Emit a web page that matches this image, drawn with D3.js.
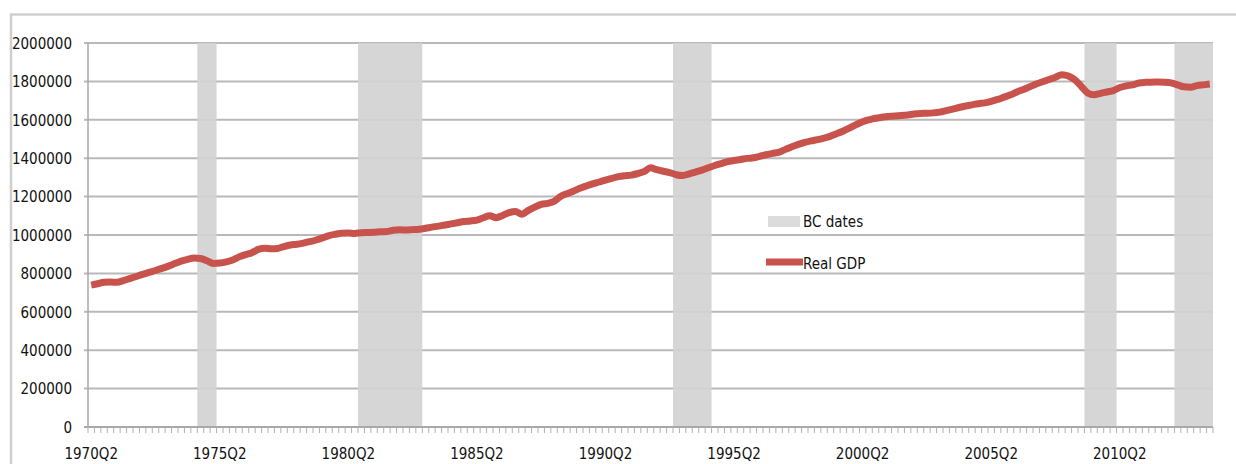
<!DOCTYPE html>
<html>

<head>
  <meta charset="utf-8">
  <script src="https://d3js.org/d3.v7.min.js"></script>
  <style>
    body {
      margin: 0;
      background-color: white;
    }

    svg {
      display: block;
    }

    text {
      font-family: "Liberation Sans Narrow", "DejaVu Sans Condensed", sans-serif;
      font-size: 15px;
      fill: #111;
    }
  </style>
</head>

<body>
  <svg width="1236" height="464"></svg>
  <script>
    // quarterly real GDP, 1970Q2 .. 2013Q4 (one row per year)
    var gdp = [
      739000, 746000, 754000,                 // 1970
      755000, 754000, 762000, 773000,         // 1971
      784000, 795000, 805000, 815000,         // 1972
      826000, 838000, 851000, 864000,         // 1973
      873000, 880000, 878000, 866000,         // 1974
      852000, 854000, 860000, 870000,         // 1975
      886000, 898000, 908000, 925000,         // 1976
      931000, 928000, 930000, 940000,         // 1977
      948000, 952000, 958000, 965000,         // 1978
      974000, 985000, 997000, 1004000,        // 1979
      1009000, 1010000, 1008000, 1012000,     // 1980
      1013000, 1014000, 1017000, 1018000,     // 1981
      1025000, 1027000, 1026000, 1028000,     // 1982
      1030000, 1035000, 1041000, 1046000,     // 1983
      1052000, 1058000, 1064000, 1070000,     // 1984
      1073000, 1078000, 1090000, 1100000,     // 1985
      1090000, 1102000, 1117000, 1123000,     // 1986
      1108000, 1128000, 1145000, 1160000,     // 1987
      1165000, 1175000, 1200000, 1215000,     // 1988
      1228000, 1243000, 1255000, 1266000,     // 1989
      1276000, 1286000, 1295000, 1304000,     // 1990
      1309000, 1312000, 1320000, 1330000,     // 1991
      1350000, 1340000, 1332000, 1325000,     // 1992
      1314000, 1310000, 1318000, 1328000,     // 1993
      1338000, 1350000, 1362000, 1372000,     // 1994
      1382000, 1388000, 1393000, 1399000,     // 1995
      1402000, 1410000, 1418000, 1425000,     // 1996
      1432000, 1446000, 1460000, 1472000,     // 1997
      1482000, 1490000, 1497000, 1505000,     // 1998
      1515000, 1528000, 1542000, 1558000,     // 1999
      1575000, 1590000, 1600000, 1608000,     // 2000
      1613000, 1617000, 1620000, 1622000,     // 2001
      1625000, 1630000, 1633000, 1634000,     // 2002
      1636000, 1640000, 1648000, 1656000,     // 2003
      1664000, 1672000, 1678000, 1684000,     // 2004
      1688000, 1696000, 1706000, 1718000,     // 2005
      1730000, 1745000, 1758000, 1772000,     // 2006
      1786000, 1798000, 1810000, 1822000,     // 2007
      1835000, 1828000, 1808000, 1775000,     // 2008
      1740000, 1730000, 1738000, 1745000,     // 2009
      1752000, 1768000, 1777000, 1782000,     // 2010
      1792000, 1795000, 1796000, 1797000,     // 2011
      1796000, 1792000, 1782000, 1772000,     // 2012
      1770000, 1778000, 1782000, 1786000      // 2013
    ];

    // business cycle bands (first and last quarter shaded)
    var bcStart = ["1974Q3", "1980Q4", "1993Q1", "2009Q1", "2012Q3"];
    var bcEnd = ["1975Q1", "1983Q1", "1994Q2", "2010Q1", "2013Q4"];

    var tickLabels = ["1970Q2", "1975Q2", "1980Q2", "1985Q2", "1990Q2",
      "1995Q2", "2000Q2", "2005Q2", "2010Q2"];
    var yTicks = [0, 200000, 400000, 600000, 800000, 1000000,
      1200000, 1400000, 1600000, 1800000, 2000000];

    var legendNames = ["BC dates", "Real GDP"];

    // category labels, one per quarter
    var quarters = [];
    var yr = 1970, qq = 2;
    for (var i = 0; i < gdp.length; i++) {
      quarters.push(yr + "Q" + qq);
      qq++;
      if (qq > 4) { qq = 1; yr++; }
    }

    var svg = d3.select("svg");

    var plotLeft = 88, plotRight = 1213, plotTop = 43, plotBottom = 427;

    var x = d3.scaleBand()
      .domain(quarters)
      .range([plotLeft, plotRight])
      .padding(0);

    var y = d3.scaleLinear()
      .domain([0, 2000000])
      .range([plotBottom, plotTop]);

    // outer chart frame
    svg.append("path")
      .attr("d", "M11,464V14.5H1236")
      .attr("fill", "none")
      .attr("stroke", "#cfcfcf")
      .attr("stroke-width", 2.5);

    // gridlines
    svg.append("g")
      .selectAll("line")
      .data(yTicks.slice(1))
      .enter()
      .append("line")
      .attr("x1", plotLeft - 4)
      .attr("x2", plotRight)
      .attr("y1", function(d) { return y(d); })
      .attr("y2", function(d) { return y(d); })
      .attr("stroke", "#b9b9b9")
      .attr("stroke-width", 2);

    // BC date bands
    svg.append("g")
      .selectAll("rect")
      .data(bcStart)
      .enter()
      .append("rect")
      .attr("x", function(d) { return x(d); })
      .attr("width", function(d, i) { return x(bcEnd[i]) + x.bandwidth() - x(d); })
      .attr("y", y(2000000))
      .attr("height", y(0) - y(2000000))
      .attr("fill", "#d2d2d2")
      .attr("opacity", 0.92);

    // axes lines
    svg.append("line")
      .attr("x1", plotLeft).attr("x2", plotLeft)
      .attr("y1", y(2000000)).attr("y2", y(0))
      .attr("stroke", "#a8a8a8").attr("stroke-width", 1.5);

    svg.append("line")
      .attr("x1", plotLeft - 4).attr("x2", plotRight)
      .attr("y1", y(0)).attr("y2", y(0))
      .attr("stroke", "#a8a8a8").attr("stroke-width", 2);

    // minor tick comb between categories
    svg.append("g")
      .selectAll("line")
      .data(quarters.concat(["end"]))
      .enter()
      .append("line")
      .attr("x1", function(d) { return d == "end" ? plotRight : x(d); })
      .attr("x2", function(d) { return d == "end" ? plotRight : x(d); })
      .attr("y1", y(0))
      .attr("y2", y(0) + 6)
      .attr("stroke", "#b0b0b0")
      .attr("stroke-width", 1);

    // y labels
    svg.append("g")
      .selectAll("text")
      .data(yTicks)
      .enter()
      .append("text")
      .attr("x", 72)
      .attr("y", function(d) { return y(d); })
      .attr("dy", "0.38em")
      .attr("text-anchor", "end")
      .text(function(d) { return d; });

    // x labels
    svg.append("g")
      .selectAll("text")
      .data(tickLabels)
      .enter()
      .append("text")
      .attr("x", function(d) { return x(d) + x.bandwidth() / 2; })
      .attr("y", 459)
      .attr("text-anchor", "middle")
      .text(function(d) { return d; });

    // GDP line
    var line = d3.line()
      .x(function(d, i) { return x(quarters[i]) + x.bandwidth() / 2; })
      .y(function(d) { return y(d); })
      .curve(d3.curveMonotoneX);

    svg.append("path")
      .datum(gdp)
      .attr("d", line)
      .attr("fill", "none")
      .attr("stroke", "#c8534d")
      .attr("stroke-width", 7)
      .attr("stroke-linejoin", "round");

    // legend
    var lg = svg.append("g").attr("transform", "translate(766,0)");

    lg.append("rect")
      .attr("x", 2).attr("y", 216)
      .attr("width", 32).attr("height", 11)
      .attr("fill", "#dcdcdc");

    lg.append("line")
      .attr("x1", 0).attr("x2", 37)
      .attr("y1", 262).attr("y2", 262)
      .attr("stroke", "#c8534d")
      .attr("stroke-width", 7);

    lg.selectAll("text")
      .data(legendNames)
      .enter()
      .append("text")
      .attr("x", 37)
      .attr("y", function(d, i) { return i == 0 ? 222 : 264; })
      .attr("dy", "0.35em")
      .text(function(d) { return d; });
  </script>
</body>
</html>
